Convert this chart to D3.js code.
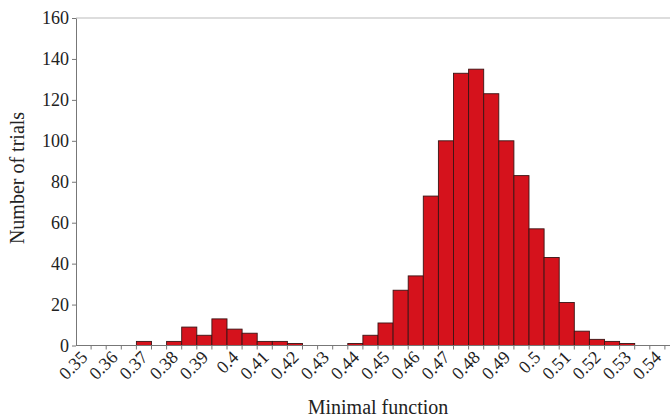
<!DOCTYPE html>
<html>
<head>
<meta charset="utf-8">
<script src="https://cdn.jsdelivr.net/npm/d3@7"></script>
<style>
  body { margin: 0; background: #fff; }
  svg { display: block; overflow: hidden; }
  text { font-family: "Liberation Serif", "Times New Roman", serif; fill: #222; }
</style>
</head>
<body>
<svg class="hist" width="670" height="417"></svg>
<script>
// histogram bins (lower edge of each 0.005 bin)
let bins = d3.range(40).map(i => (0.35 + i * 0.005).toFixed(3));
let counts = [0, 0, 0, 0, 2, 0, 2, 9, 5, 13,
              8, 6, 2, 2, 1, 0, 0, 0, 1, 5,
              11, 27, 34, 73, 100, 133, 135, 123, 100, 83,
              57, 43, 21, 7, 3, 2, 1, 0, 0, 0];
let tickLabels = ['0.35', '0.36', '0.37', '0.38', '0.39', '0.4', '0.41', '0.42', '0.43', '0.44',
                  '0.45', '0.46', '0.47', '0.48', '0.49', '0.5', '0.51', '0.52', '0.53', '0.54'];
let yTicks = [0, 20, 40, 60, 80, 100, 120, 140, 160];

let data = bins.map((b, i) => ({bin: b, count: counts[i]}));

let margin = {left: 76, top: 18, bottom: 345.5};
let bandW = 15.1;

let x = d3.scaleBand()
  .domain(bins)
  .range([margin.left, margin.left + bins.length * bandW])
  .paddingInner(0);

let y = d3.scaleLinear()
  .domain([0, 160])
  .range([margin.bottom, margin.top]);

let svg = d3.select('svg.hist');

// top border of plot area
svg.append('line')
  .attr('x1', margin.left).attr('x2', x.range()[1])
  .attr('y1', margin.top).attr('y2', margin.top)
  .style('stroke', '#bbb')
  .style('stroke-width', 1);

// bars
svg.append('g')
  .attr('class', 'bars')
  .selectAll('rect')
  .data(data.filter(d => d.count > 0))
  .enter()
  .append('rect')
  .attr('x', d => x(d.bin))
  .attr('y', d => y(d.count))
  .attr('width', x.bandwidth())
  .attr('height', d => y(0) - y(d.count))
  .style('fill', '#d5121c')
  .style('stroke', '#3a1414')
  .style('stroke-width', 0.9);

// y axis
let yAxis = svg.append('g')
  .attr('transform', `translate(${margin.left},0)`)
  .call(d3.axisLeft(y).tickValues(yTicks).tickSize(4).tickSizeOuter(0).tickPadding(3));
yAxis.select('.domain').style('stroke', '#777');
yAxis.selectAll('.tick line').style('stroke', '#777');
yAxis.selectAll('.tick text')
  .style('font-size', '18px')
  .style('font-family', '"Liberation Serif", serif')
  .style('fill', '#222');

// x axis: ticks at bin edges
let xg = svg.append('g').attr('class', 'xaxis');
xg.append('line')
  .attr('x1', margin.left).attr('x2', x.range()[1])
  .attr('y1', y(0)).attr('y2', y(0))
  .style('stroke', '#777');
xg.selectAll('line.tick')
  .data(bins.slice(1))
  .enter()
  .append('line')
  .attr('class', 'tick')
  .attr('x1', d => x(d)).attr('x2', d => x(d))
  .attr('y1', y(0)).attr('y2', y(0) + 4)
  .style('stroke', '#777');

xg.selectAll('text')
  .data(tickLabels)
  .enter()
  .append('text')
  .attr('transform', (d, i) => {
    let cx = x(bins[i * 2]) + x.bandwidth() / 2;
    return `translate(${cx + 5}, ${y(0) + 13}) rotate(-45)`;
  })
  .style('text-anchor', 'end')
  .style('font-size', '18px')
  .text(d => d);

// axis titles
svg.append('text')
  .attr('x', 378)
  .attr('y', 414)
  .style('text-anchor', 'middle')
  .style('font-size', '20px')
  .text('Minimal function');

svg.append('text')
  .attr('transform', 'translate(24, 178) rotate(-90)')
  .style('text-anchor', 'middle')
  .style('font-size', '20px')
  .text('Number of trials');
</script>
</body>
</html>
